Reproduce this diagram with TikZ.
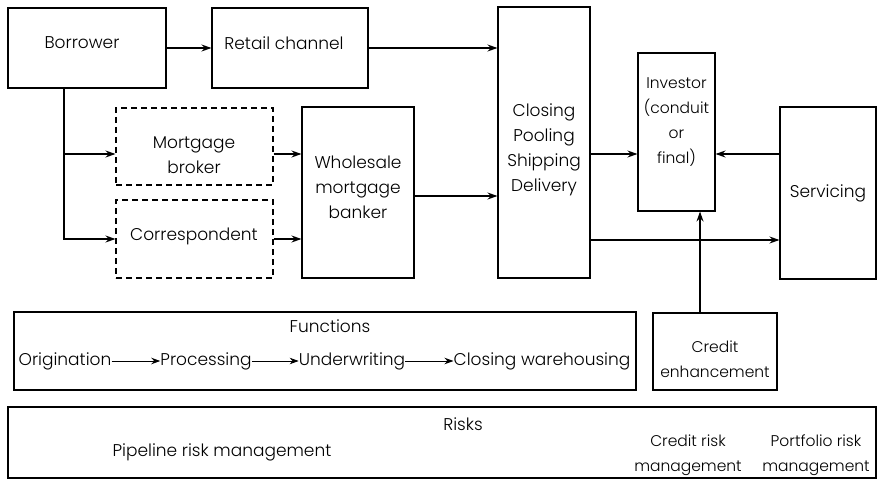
\documentclass[tikz,border=0pt]{standalone}
\usepackage{fontspec}
\setmainfont{Poppins}[UprightFont={* Light}]
\usetikzlibrary{arrows.meta}
\begin{document}
\begin{tikzpicture}[x=1pt,y=-1pt,
  box/.style={draw,line width=1.1pt,inner sep=0pt},
  dbox/.style={box,dash pattern=on 6pt off 4pt},
  txt/.style={align=center,font=\fontsize{17}{25}\selectfont,inner sep=0pt},
  stxt/.style={align=center,font=\fontsize{15.5}{25}\selectfont,inner sep=0pt},
  arr/.style={line width=1.1pt,-{Stealth[length=10pt,width=7pt]}},
  farr/.style={line width=0.9pt,-{Stealth[length=9pt,width=6.5pt]}}]
\useasboundingbox (0,0) rectangle (880,484);
% boxes
\node[box,minimum width=158pt,minimum height=80pt] (bor) at (87,48) {};
\node[box,minimum width=156pt,minimum height=80pt] (ret) at (290,48) {};
\node[dbox,minimum width=157pt,minimum height=77pt] (brk) at (194.5,146.5) {};
\node[dbox,minimum width=157pt,minimum height=78pt] (cor) at (194.5,239) {};
\node[box,minimum width=112pt,minimum height=171pt] (whl) at (358,192.5) {};
\node[box,minimum width=92pt,minimum height=271pt] (cls) at (544,142.5) {};
\node[box,minimum width=77pt,minimum height=158pt] (inv) at (676.5,132) {};
\node[box,minimum width=96pt,minimum height=172pt] (srv) at (828,193) {};
\node[box,minimum width=622pt,minimum height=78pt] (fun) at (325,351) {};
\node[box,minimum width=124pt,minimum height=77pt] (cre) at (715,351.5) {};
\node[box,minimum width=868pt,minimum height=71pt] (rsk) at (442,442.5) {};
% texts
\node[txt] (borT) at (82,43) {Borrower};
\node[txt] (retT) at (284,43) {Retail channel};
\node[txt] (brkT) at (194,155) {Mortgage\\broker};
\node[txt] (corT) at (194,236) {Correspondent};
\node[txt] (whlT) at (358,187) {Wholesale\\mortgage\\banker};
\node[txt] (clsT) at (544,150) {Closing\\Pooling\\Shipping\\Delivery};
\node[stxt] (invT) at (676.5,122) {Investor\\(conduit\\or\\final)};
\node[txt] (srvT) at (828,193) {Servicing};
\node[txt] (funT) at (330,326) {Functions};
\node[stxt] (creT) at (715,359) {Credit\\enhancement};
\node[txt] (rskT) at (463,424) {Risks};
\node[txt] (pipT) at (222,452) {Pipeline risk management};
\node[stxt] (crmT) at (688,455) {Credit risk\\management};
\node[stxt] (pfmT) at (816,455) {Portfolio risk\\management};
% functions row
\node[txt] (f1) at (65,361) {Origination};
\node[txt] (f2) at (206,361) {Processing};
\node[txt] (f3) at (352,361) {Underwriting};
\node[txt] (f4) at (542,361) {Closing warehousing};
\draw[farr] (f1) -- (f2);
\draw[farr] (f2) -- (f3);
\draw[farr] (f3) -- (f4);
% helper coordinates
\coordinate (vx) at (64,0);
\coordinate (yB) at (0,154);
\coordinate (yW) at (0,196);
\coordinate (yS) at (0,240);
\coordinate (xC) at (700,0);
% connectors
\draw[arr] (bor) -- (ret);
\draw[arr] (ret.east) -- (cls.west |- ret.east);
\draw[arr] (bor.south -| vx) |- (cor.west);
\draw[arr] (vx |- yB) -- (brk.west |- yB);
\draw[arr] (brk.east |- yB) -- (whl.west |- yB);
\draw[arr] (cor.east) -- (whl.west |- cor.east);
\draw[arr] (whl.east |- yW) -- (cls.west |- yW);
\draw[arr] (cls.east |- yB) -- (inv.west |- yB);
\draw[arr] (srv.west |- yB) -- (inv.east |- yB);
\draw[arr] (cls.east |- yS) -- (srv.west |- yS);
\draw[arr] (cre.north -| xC) -- (inv.south -| xC);
\end{tikzpicture}
\end{document}
